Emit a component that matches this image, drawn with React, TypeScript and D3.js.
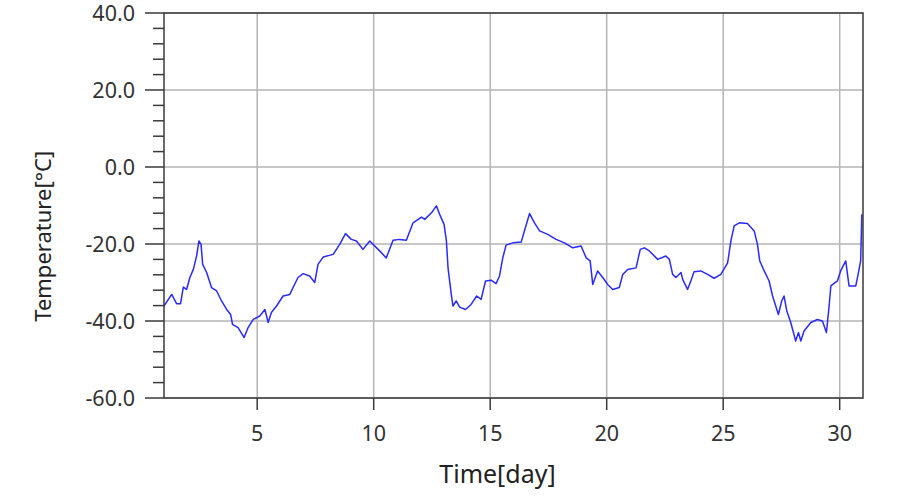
import React from 'react';
import * as d3 from 'd3';

const W = 918;
const H = 498;
const MARGIN = { top: 13, right: 55, bottom: 100, left: 164 };

// sampled along the trace: day -> temperature
const days = [
  1.0, 1.33, 1.54, 1.71, 1.83, 1.97, 2.11, 2.26, 2.4, 2.5, 2.59, 2.66, 2.83, 3.04, 3.26, 3.47, 3.69, 3.86, 3.94,
  4.18, 4.44, 4.61, 4.83, 5.11, 5.33, 5.47, 5.61, 5.83, 6.11, 6.4, 6.54, 6.75, 6.97, 7.25, 7.47, 7.61, 7.83,
  8.26, 8.54, 8.79, 9.04, 9.26, 9.54, 9.83, 10.19, 10.54, 10.83, 11.11, 11.4, 11.69, 12.05, 12.19, 12.48,
  12.69, 12.83, 13.02, 13.12, 13.19, 13.33, 13.4, 13.54, 13.69, 13.94, 14.18, 14.42, 14.61, 14.8, 15.04,
  15.25, 15.4, 15.54, 15.68, 15.97, 16.33, 16.47, 16.69, 16.9, 17.12, 17.47, 17.83, 18.19, 18.54, 18.9,
  19.12, 19.29, 19.4, 19.61, 19.83, 20.04, 20.26, 20.54, 20.69, 20.9, 21.26, 21.44, 21.62, 21.83, 22.19,
  22.54, 22.69, 22.83, 22.97, 23.19, 23.26, 23.47, 23.61, 23.75, 24.04, 24.33, 24.61, 24.9, 25.19, 25.33,
  25.47, 25.69, 26.04, 26.33, 26.47, 26.57, 26.76, 26.97, 27.12, 27.37, 27.51, 27.61, 27.73, 27.9, 28.11,
  28.23, 28.33, 28.47, 28.76, 29.04, 29.26, 29.43, 29.54, 29.62, 29.9, 30.04, 30.26, 30.4, 30.69, 30.79,
  30.9, 30.95,
];
const temps = [
  -36.1, -33.1, -35.5, -35.5, -31.2, -31.8, -28.7, -26.6, -23.1, -19.2, -20.1, -25.3, -27.4, -31.3, -32.2,
  -34.8, -37.0, -38.3, -40.9, -41.7, -44.3, -41.7, -39.6, -38.7, -37.0, -40.4, -37.8, -36.1, -33.5, -33.1,
  -31.3, -28.7, -27.7, -28.3, -30.0, -25.3, -23.4, -22.7, -20.1, -17.3, -18.8, -19.2, -21.4, -19.2, -21.4,
  -23.6, -19.0, -18.8, -19.0, -14.5, -13.0, -13.6, -11.9, -10.1, -12.3, -14.9, -19.2, -26.2, -33.1, -36.1,
  -34.8, -36.4, -37.0, -35.7, -33.5, -34.4, -29.6, -29.4, -30.3, -28.3, -23.6, -20.3, -19.7, -19.5, -16.6,
  -12.1, -14.5, -16.6, -17.5, -18.8, -19.7, -21.0, -20.5, -23.6, -24.4, -30.5, -27.0, -28.7, -30.5, -31.8,
  -31.3, -27.9, -26.6, -26.2, -21.4, -21.0, -21.8, -24.0, -23.1, -24.0, -27.9, -28.7, -27.4, -29.2, -31.8,
  -29.6, -27.2, -27.0, -27.9, -28.9, -27.9, -24.9, -19.2, -15.3, -14.5, -14.7, -16.6, -20.1, -24.4, -27.0,
  -29.6, -33.5, -38.3, -34.8, -33.5, -37.4, -40.4, -45.2, -43.0, -45.2, -42.6, -40.4, -39.6, -40.0, -43.0,
  -36.5, -30.9, -29.6, -27.0, -24.4, -30.9, -30.9, -27.9, -24.4, -12.3,
];

const xTicks = [5, 10, 15, 20, 25, 30];
const yTicks = [-60, -40, -20, 0, 20, 40];

const FONT = '"Noto Sans", "DejaVu Sans", sans-serif';

export default function App() {
  const innerW = W - MARGIN.left - MARGIN.right;
  const innerH = H - MARGIN.top - MARGIN.bottom;

  const x = d3.scaleLinear().domain([1, 31]).range([0, innerW]);
  const y = d3.scaleLinear().domain([-60, 40]).range([innerH, 0]);

  const minorY = d3.range(-60, 40.001, 4).filter(v => !yTicks.includes(v));

  const line = d3.line<number>()
    .x((_, i) => x(days[i]))
    .y(d => y(d));

  return (
    <svg width={W} height={H} style={{ position: 'absolute', left: 0, top: 0, background: '#fff' }}>
      <g transform={`translate(${MARGIN.left},${MARGIN.top})`}>
        {/* grid */}
        {xTicks.map(t => (
          <line key={`gx${t}`} x1={x(t)} x2={x(t)} y1={0} y2={innerH} stroke="#b4b4b4" strokeWidth={1.5} />
        ))}
        {yTicks.map(t => (
          <line key={`gy${t}`} x1={0} x2={innerW} y1={y(t)} y2={y(t)} stroke="#b4b4b4" strokeWidth={1.5} />
        ))}

        {/* series */}
        <path d={line(temps) || ''} fill="none" stroke="#2a2aff" strokeWidth={1.5} strokeLinejoin="round" />

        {/* frame */}
        <rect x={0} y={0} width={innerW} height={innerH} fill="none" stroke="#3a3a3a" strokeWidth={1.5} />

        {/* y axis ticks */}
        {yTicks.map(t => (
          <g key={`yt${t}`}>
            <line x1={-19} x2={0} y1={y(t)} y2={y(t)} stroke="#3a3a3a" strokeWidth={1.5} />
            <text x={-29} y={y(t)} dy="0.36em" textAnchor="end" fontSize={21.5} fill="#333" fontFamily={FONT}>
              {t.toFixed(1)}
            </text>
          </g>
        ))}
        {minorY.map(t => (
          <line key={`ym${t}`} x1={-11} x2={0} y1={y(t)} y2={y(t)} stroke="#3a3a3a" strokeWidth={1.5} />
        ))}

        {/* x axis ticks */}
        {xTicks.map(t => (
          <g key={`xt${t}`}>
            <line x1={x(t)} x2={x(t)} y1={innerH} y2={innerH + 12} stroke="#3a3a3a" strokeWidth={1.5} />
            <text x={x(t)} y={innerH + 43} textAnchor="middle" fontSize={21.5} fill="#333" fontFamily={FONT}>
              {t}
            </text>
          </g>
        ))}

        {/* titles */}
        <text x={innerW / 2 - 16} y={innerH + 85} textAnchor="middle" fontSize={25} fill="#222" fontFamily={FONT}>
          Time[day]
        </text>
        <text
          transform={`translate(${-113},${y(-18)}) rotate(-90)`}
          textAnchor="middle"
          fontSize={22}
          fill="#222"
          fontFamily={FONT}
        >
          Temperature[°C]
        </text>
      </g>
    </svg>
  );
}
